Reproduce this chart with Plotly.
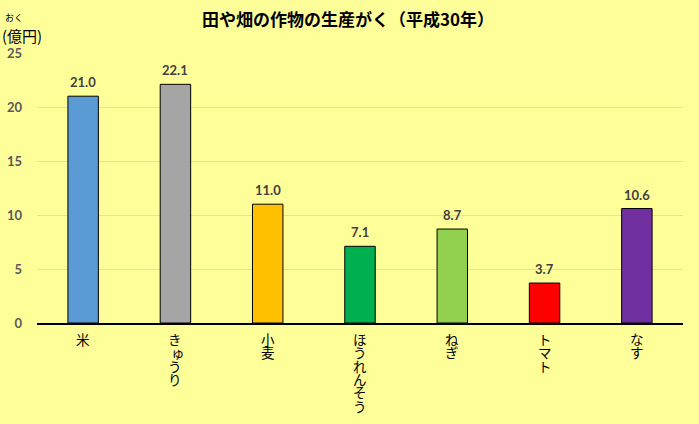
import plotly.graph_objects as go

categories = ["米", "きゅうり", "小麦", "ほうれんそう", "ねぎ", "トマト", "なす"]
values = [21.0, 22.1, 11.0, 7.1, 8.7, 3.7, 10.6]
colors = ["#5B9BD5", "#A5A5A5", "#FFC000", "#00B050", "#92D050", "#FF0000", "#7030A0"]
y_ticks = [0, 5, 10, 15, 20, 25]

FONT = "Noto Sans CJK JP"
NUMFONT = "Lato"
BG = "#FFFF99"

fig = go.Figure(
    go.Bar(
        x=categories,
        y=values,
        marker=dict(color=colors, line=dict(color="black", width=1)),
        width=0.33,
        cliponaxis=False,
    )
)

fig.update_layout(
    width=699,
    height=424,
    paper_bgcolor=BG,
    plot_bgcolor=BG,
    margin=dict(l=37, r=16, t=53, b=101),
    showlegend=False,
    title=dict(
        text="<b>田や畑の作物の生産がく（平成30年）</b>",
        x=0.498,
        xanchor="center",
        y=0.952,
        yanchor="middle",
        font=dict(family=FONT, size=17, color="black"),
    ),
    xaxis=dict(
        tickmode="array",
        tickvals=categories,
        showticklabels=False,
        showline=True,
        linecolor="black",
        linewidth=1.5,
        ticks="",
        showgrid=False,
        automargin=False,
    ),
    yaxis=dict(
        range=[0, 25],
        tickvals=y_ticks,
        tickfont=dict(family=NUMFONT, size=13, color="#595959", weight="bold"),
        showgrid=True,
        gridcolor="#E3E0B0",
        gridwidth=1,
        zeroline=False,
        showline=False,
        ticks="",
        ticklabelstandoff=14,
        automargin=False,
    ),
    bargap=0.67,
)

# data labels above bars
for cat, v in zip(categories, values):
    fig.add_annotation(
        text=f"<b>{v:.1f}</b>", x=cat, y=v, xref="x", yref="y",
        xanchor="center", yanchor="bottom", showarrow=False, yshift=4,
        font=dict(family=NUMFONT, size=13, color="#404040"),
    )

# vertical category labels, one character per line, tightly stacked
for cat in categories:
    for i, ch in enumerate(cat):
        small = ch in "ゅゃょっ"
        fig.add_annotation(
            text=ch, x=cat, y=0, xref="x", yref="y",
            xanchor="center", yanchor="top", showarrow=False,
            borderpad=0,
            yshift=-5 - i * 13.3, xshift=3 if small else 0,
            font=dict(family=FONT, size=13.5, color="black"),
        )

fig.add_annotation(
    text="おく", x=-0.035, y=1.13, xref="paper", yref="paper",
    xanchor="center", yanchor="middle", showarrow=False,
    font=dict(family=FONT, size=9, color="black"),
)
fig.add_annotation(
    text="(億円)", x=-0.057, y=1.065, xref="paper", yref="paper",
    xanchor="left", yanchor="middle", showarrow=False,
    font=dict(family=FONT, size=15, color="black"),
)

fig.write_html("out.html")
